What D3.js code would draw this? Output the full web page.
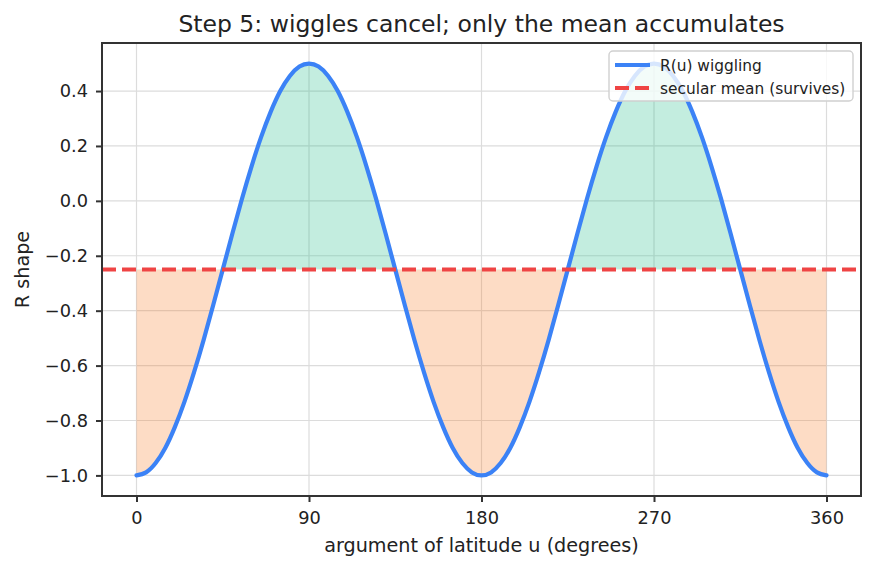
<!DOCTYPE html>
<html lang="en">
<head>
<meta charset="utf-8">
<title>Step 5</title>
<script src="https://d3js.org/d3.v7.min.js"></script>
<style>
  body { margin: 0; background: #fff; }
  text { font-family: "DejaVu Sans", sans-serif; fill: #222; }
  .tick text { font-size: 17.8px; }
  .title { font-size: 23.5px; }
  .axlabel { font-size: 19.2px; }
  .legend text { font-size: 15.4px; }
</style>
</head>
<body>
<script>
// argument of latitude u (degrees), sampled every 5 deg
const uDeg = [0, 5, 10, 15, 20, 25, 30, 35, 40, 45, 50, 55, 60, 65, 70, 75, 80, 85, 90,
              95, 100, 105, 110, 115, 120, 125, 130, 135, 140, 145, 150, 155, 160, 165, 170, 175, 180,
              185, 190, 195, 200, 205, 210, 215, 220, 225, 230, 235, 240, 245, 250, 255, 260, 265, 270,
              275, 280, 285, 290, 295, 300, 305, 310, 315, 320, 325, 330, 335, 340, 345, 350, 355, 360];
// R(u)
const rShape = [-1.0, -0.989, -0.955, -0.900, -0.824, -0.732, -0.625, -0.507, -0.380, -0.250,
                -0.120, 0.007, 0.125, 0.232, 0.324, 0.400, 0.455, 0.489, 0.5,
                0.489, 0.455, 0.400, 0.324, 0.232, 0.125, 0.007, -0.120, -0.250,
                -0.380, -0.507, -0.625, -0.732, -0.824, -0.900, -0.955, -0.989, -1.0,
                -0.989, -0.955, -0.900, -0.824, -0.732, -0.625, -0.507, -0.380, -0.250,
                -0.120, 0.007, 0.125, 0.232, 0.324, 0.400, 0.455, 0.489, 0.5,
                0.489, 0.455, 0.400, 0.324, 0.232, 0.125, 0.007, -0.120, -0.250,
                -0.380, -0.507, -0.625, -0.732, -0.824, -0.900, -0.955, -0.989, -1.0];
const secularMean = -0.25;
const xTicks = [0, 90, 180, 270, 360];
const yTicks = [-1.0, -0.8, -0.6, -0.4, -0.2, 0.0, 0.2, 0.4];
const legendLabels = ["R(u) wiggling", "secular mean (survives)"];

const w = 875, h = 569;
const pLeft = 102, pRight = 861, pTop = 43, pBottom = 496;

const data = uDeg.map((u, i) => ({u: u, r: rShape[i]}));

const x = d3.scaleLinear().domain([-18, 378]).range([pLeft, pRight]);
const y = d3.scaleLinear().domain([-1.075, 0.575]).range([pBottom, pTop]);

const svg = d3.select("body").append("svg")
  .attr("width", w).attr("height", h);

// clip regions above / below the mean
const defs = svg.append("defs");
defs.append("clipPath").attr("id", "above")
  .append("rect").attr("x", pLeft).attr("y", pTop)
  .attr("width", pRight - pLeft).attr("height", y(secularMean) - pTop);
defs.append("clipPath").attr("id", "below")
  .append("rect").attr("x", pLeft).attr("y", y(secularMean))
  .attr("width", pRight - pLeft).attr("height", pBottom - y(secularMean));

// grid
svg.append("g").selectAll("line").data(xTicks).enter().append("line")
  .attr("x1", d => x(d)).attr("x2", d => x(d))
  .attr("y1", pTop).attr("y2", pBottom)
  .attr("stroke", "#dcdcdc").attr("stroke-width", 1.2);
svg.append("g").selectAll("line").data(yTicks).enter().append("line")
  .attr("x1", pLeft).attr("x2", pRight)
  .attr("y1", d => y(d)).attr("y2", d => y(d))
  .attr("stroke", "#dcdcdc").attr("stroke-width", 1.2);

// fills
const area = d3.area()
  .x(d => x(d.u))
  .y0(y(secularMean))
  .y1(d => y(d.r))
  .curve(d3.curveNatural);

svg.append("path").datum(data)
  .attr("d", area)
  .attr("fill", "#10b981").attr("fill-opacity", 0.25)
  .attr("clip-path", "url(#above)");
svg.append("path").datum(data)
  .attr("d", area)
  .attr("fill", "#f97316").attr("fill-opacity", 0.25)
  .attr("clip-path", "url(#below)");

// curve
const line = d3.line().x(d => x(d.u)).y(d => y(d.r)).curve(d3.curveNatural);
svg.append("path").datum(data)
  .attr("d", line)
  .attr("fill", "none")
  .attr("stroke", "#3b82f6")
  .attr("stroke-width", 4.2)
  .attr("stroke-linecap", "round");

// mean line
svg.append("line")
  .attr("x1", pLeft).attr("x2", pRight)
  .attr("y1", y(secularMean)).attr("y2", y(secularMean))
  .attr("stroke", "#ef4444").attr("stroke-width", 4.2)
  .attr("stroke-dasharray", "14,6");

// axes
const xAxis = svg.append("g")
  .attr("transform", "translate(0," + pBottom + ")")
  .call(d3.axisBottom(x).tickValues(xTicks).tickSize(6).tickPadding(9).tickFormat(d3.format("d")));
const yAxis = svg.append("g")
  .attr("transform", "translate(" + pLeft + ",0)")
  .call(d3.axisLeft(y).tickValues(yTicks).tickSize(6).tickPadding(8)
    .tickFormat(d => d3.format(".1f")(d).replace("-", "\u2212")));
[xAxis, yAxis].forEach(a => {
  a.select(".domain").remove();
  a.selectAll(".tick line").attr("stroke", "#333").attr("stroke-width", 2);
  a.selectAll(".tick text").attr("fill", "#222");
});

// frame
svg.append("rect")
  .attr("x", pLeft).attr("y", pTop)
  .attr("width", pRight - pLeft).attr("height", pBottom - pTop)
  .attr("fill", "none").attr("stroke", "#333").attr("stroke-width", 2);

// labels
svg.append("text").attr("class", "title")
  .attr("x", (pLeft + pRight) / 2).attr("y", 32)
  .attr("text-anchor", "middle")
  .text("Step 5: wiggles cancel; only the mean accumulates");
svg.append("text").attr("class", "axlabel")
  .attr("x", (pLeft + pRight) / 2).attr("y", 552)
  .attr("text-anchor", "middle")
  .text("argument of latitude u (degrees)");
svg.append("text").attr("class", "axlabel")
  .attr("transform", "translate(29," + (pTop + pBottom) / 2 + ") rotate(-90)")
  .attr("text-anchor", "middle")
  .text("R shape");

// legend
const lg = svg.append("g").attr("class", "legend");
lg.append("rect")
  .attr("x", 609).attr("y", 51).attr("width", 244).attr("height", 50)
  .attr("rx", 4)
  .attr("fill", "#fff").attr("fill-opacity", 0.8)
  .attr("stroke", "#d0d0d0").attr("stroke-width", 1.4);
const styles = [{c: "#3b82f6", dash: null}, {c: "#ef4444", dash: "14,6"}];
legendLabels.forEach((t, i) => {
  const yy = 65 + i * 23;
  lg.append("line")
    .attr("x1", 615).attr("x2", 650).attr("y1", yy).attr("y2", yy)
    .attr("stroke", styles[i].c).attr("stroke-width", 4.2)
    .attr("stroke-dasharray", styles[i].dash);
  lg.append("text").attr("x", 660).attr("y", yy + 5.5).text(t);
});
</script>
</body>
</html>
